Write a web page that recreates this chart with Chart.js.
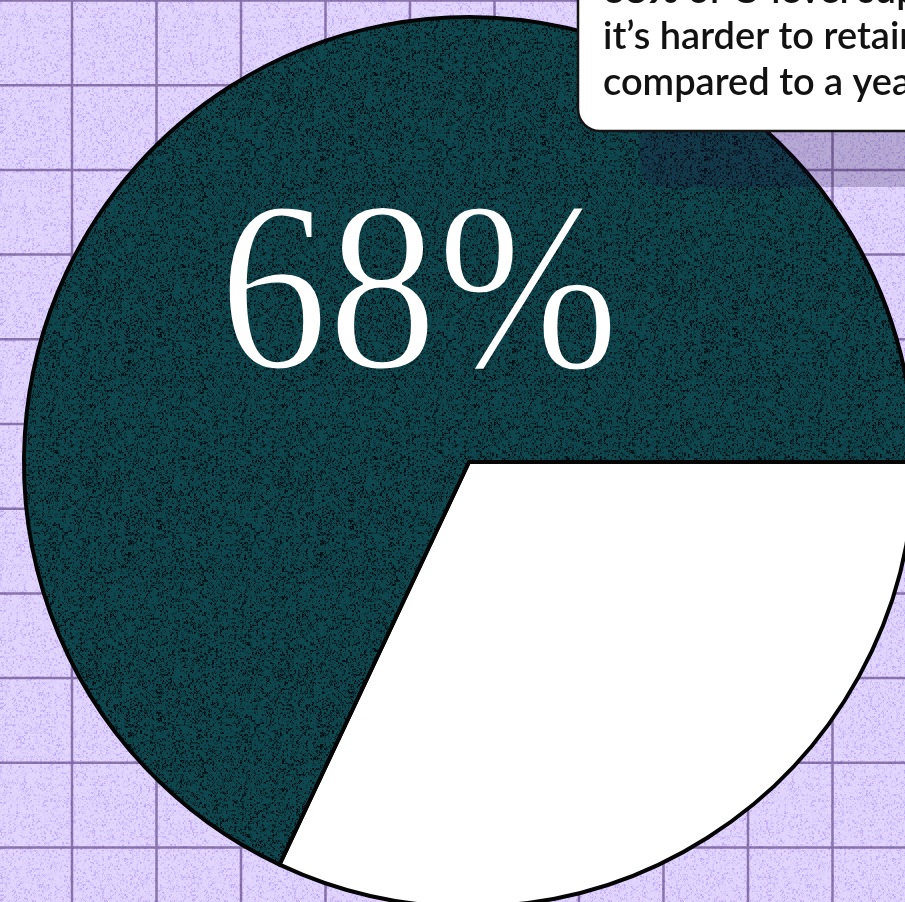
<!DOCTYPE html>
<html>
<head>
<meta charset="utf-8">
<script src="https://cdn.jsdelivr.net/npm/chart.js@4.4.1/dist/chart.umd.min.js"></script>
<style>
  html, body { margin: 0; padding: 0; width: 905px; height: 902px; overflow: hidden; background: #dccbff; }
  #wrap { position: absolute; left: 0; top: 0; width: 938px; height: 924px; }
</style>
</head>
<body>
<div id="wrap"><canvas id="pie" width="938" height="924"></canvas></div>
<script>
// Survey split: share of C-level respondents
const categories = ['Not harder to retain', 'Harder to retain'];
const shares = [32, 68];
const sliceColors = ['#ffffff', 'teal'];
const calloutLines = [
  ['of C-level supply chain leaders say'],
  ['it\u2019s harder to retain talent'],
  ['compared to a year ago']
];

// Deterministic hash used to build a grain texture tile
function hash(n) {
  n = (n ^ 61) ^ (n >>> 16);
  n = n + (n << 3);
  n ^= n >>> 4;
  n = Math.imul(n, 0x27d4eb2d);
  n ^= n >>> 15;
  return (n >>> 0) / 4294967296;
}

function grainTile(base, speck, seed, strength) {
  const size = 192;
  const c = document.createElement('canvas');
  c.width = c.height = size;
  const g = c.getContext('2d');
  const img = g.createImageData(size, size);
  for (let y = 0; y < size; y++) {
    for (let x = 0; x < size; x++) {
      // blend two scales of grain so the specks look blotchy
      const a = hash((x + y * size) * 7 + seed);
      const b = hash(((x >> 1) + (y >> 1) * size) * 13 + seed * 3);
      let t = Math.max(0, (a * 0.45 + b * 0.55) - 0.35) / 0.65;
      t = Math.min(1, t * t * strength);
      const i = (x + y * size) * 4;
      img.data[i]     = base[0] + (speck[0] - base[0]) * t;
      img.data[i + 1] = base[1] + (speck[1] - base[1]) * t;
      img.data[i + 2] = base[2] + (speck[2] - base[2]) * t;
      img.data[i + 3] = 255;
    }
  }
  g.putImageData(img, 0, 0);
  return c;
}

const pieCanvas = document.getElementById('pie');
const ctx0 = pieCanvas.getContext('2d');
const lavender = ctx0.createPattern(grainTile([226, 214, 255], [184, 160, 242], 11, 1.1), 'repeat');
const tealGrain = ctx0.createPattern(grainTile([16, 72, 80], [0, 16, 20], 5, 1.9), 'repeat');

const backdrop = {
  id: 'backdrop',
  beforeDraw(chart) {
    const ctx = chart.ctx;
    ctx.save();
    ctx.fillStyle = lavender;
    ctx.fillRect(0, 0, chart.width, chart.height);
    ctx.strokeStyle = 'rgba(66, 40, 104, 0.55)';
    ctx.lineWidth = 2.5;
    ctx.beginPath();
    for (let x = 72; x < chart.width; x += 84.5) {
      ctx.moveTo(x, 0); ctx.lineTo(x, chart.height);
    }
    for (let y = 0.5; y < chart.height; y += 84.7) {
      ctx.moveTo(0, y); ctx.lineTo(chart.width, y);
    }
    ctx.stroke();
    ctx.restore();
  }
};

const bigLabel = {
  id: 'bigLabel',
  afterDatasetsDraw(chart) {
    const ctx = chart.ctx;
    const arc = chart.getDatasetMeta(0).data[1];
    const text = shares[1] + '%';
    ctx.save();
    ctx.font = '242px "Liberation Serif", "DejaVu Serif", serif';
    ctx.textAlign = 'left';
    ctx.textBaseline = 'alphabetic';
    const m = ctx.measureText(text);
    const ink = m.actualBoundingBoxLeft + m.actualBoundingBoxRight;
    const sx = 384 / ink;
    ctx.translate(arc.x - 241, arc.y - 94);
    ctx.scale(sx, 1);
    ctx.fillStyle = '#ffffff';
    ctx.fillText(text, m.actualBoundingBoxLeft, 0);
    // thin the strokes a little for a lighter display cut
    ctx.strokeStyle = tealGrain;
    ctx.lineWidth = 3;
    ctx.lineJoin = 'round';
    ctx.strokeText(text, m.actualBoundingBoxLeft, 0);
    ctx.restore();
  }
};

function roundRect(ctx, x, y, w, h, r) {
  ctx.beginPath();
  ctx.moveTo(x + r, y);
  ctx.lineTo(x + w - r, y);
  ctx.arcTo(x + w, y, x + w, y + r, r);
  ctx.lineTo(x + w, y + h - r);
  ctx.arcTo(x + w, y + h, x + w - r, y + h, r);
  ctx.lineTo(x + r, y + h);
  ctx.arcTo(x, y + h, x, y + h - r, r);
  ctx.lineTo(x, y + r);
  ctx.arcTo(x, y, x + r, y, r);
  ctx.closePath();
}

const callout = {
  id: 'callout',
  afterDraw(chart) {
    const ctx = chart.ctx;
    const bx = 578, by = -60, bw = 420, bh = 191, br = 22;
    ctx.save();
    // hard drop shadow
    ctx.fillStyle = 'rgba(34, 14, 60, 0.22)';
    roundRect(ctx, bx + 62, by + 56, bw, bh, br);
    ctx.fill();
    // card
    ctx.fillStyle = '#ffffff';
    roundRect(ctx, bx, by, bw, bh, br);
    ctx.fill();
    ctx.strokeStyle = '#141414';
    ctx.lineWidth = 2.5;
    ctx.stroke();
    // text
    ctx.fillStyle = '#121212';
    ctx.textBaseline = 'alphabetic';
    ctx.textAlign = 'left';
    const baselines = [3, 49, 95];
    const tx = 603;
    ctx.font = '800 38px Lato, "Open Sans", sans-serif';
    const lead = shares[1] + '% ';
    ctx.fillText(lead, tx, baselines[0]);
    const leadW = ctx.measureText(lead).width;
    ctx.font = '600 38px Lato, "Open Sans", sans-serif';
    ctx.fillText(calloutLines[0][0], tx + leadW, baselines[0]);
    ctx.fillText(calloutLines[1][0], tx, baselines[1]);
    ctx.fillText(calloutLines[2][0], tx, baselines[2]);
    ctx.restore();
  }
};

new Chart(pieCanvas, {
  type: 'pie',
  data: {
    labels: categories,
    datasets: [{
      data: shares,
      backgroundColor: [sliceColors[0], tealGrain],
      borderColor: '#050505',
      borderWidth: 4,
      borderJoinStyle: 'miter',
      hoverOffset: 0
    }]
  },
  options: {
    responsive: false,
    animation: false,
    devicePixelRatio: 1,
    radius: 445,
    rotation: 90,
    layout: { padding: 0 },
    plugins: {
      legend: { display: false },
      tooltip: { enabled: false }
    },
    events: []
  },
  plugins: [backdrop, bigLabel, callout]
});
</script>
</body>
</html>
